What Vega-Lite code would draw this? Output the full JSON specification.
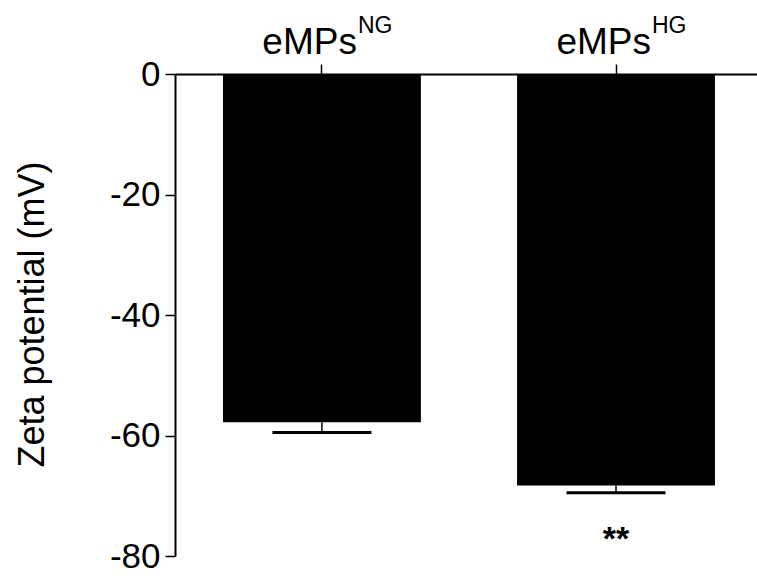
{
  "$schema": "https://vega.github.io/schema/vega-lite/v6.json",
  "width": 582,
  "height": 482,
  "autosize": {"type": "none"},
  "padding": {"left": 175, "top": 74, "right": 0, "bottom": 25},
  "config": {
    "view": {"stroke": null},
    "font": "Liberation Sans",
    "axis": {"labelFont": "Liberation Sans", "titleFont": "Liberation Sans", "domainColor": "black", "tickColor": "black", "labelColor": "black", "titleColor": "black", "grid": false}
  },
  "data": {
    "values": [
      {"group": "NG", "label": "eMPs", "sup": "NG", "mean": -57.8, "lower": -59.5, "star": "", "starY": null},
      {"group": "HG", "label": "eMPs", "sup": "HG", "mean": -68.3, "lower": -69.5, "star": "**", "starY": -77.4}
    ]
  },
  "encoding": {
    "x": {
      "field": "group", "type": "nominal", "sort": ["NG", "HG"],
      "scale": {"paddingInner": 0.327, "paddingOuter": 0.153, "align": 0.533},
      "axis": {"orient": "top", "labels": false, "title": null, "tickSize": 10, "tickWidth": 1.5, "domainWidth": 2}
    }
  },
  "layer": [
    {
      "mark": {"type": "bar", "color": "black"},
      "encoding": {
        "y": {
          "field": "mean", "type": "quantitative",
          "scale": {"domain": [-80, 0], "nice": false},
          "axis": {"title": "Zeta potential (mV)", "values": [0, -20, -40, -60, -80], "labelExpr": "toString(datum.value)", "tickSize": 10, "tickWidth": 1.5, "domainWidth": 2, "labelFontSize": 35, "titleFontSize": 36, "titleFontWeight": "normal", "labelPadding": 5, "labelFlush": false, "labelOverlap": false, "titleX": -132, "titleY": 240, "titleAngle": 270, "titleBaseline": "alphabetic", "titleAlign": "center"}
        }
      }
    },
    {
      "mark": {"type": "rule", "color": "black", "strokeWidth": 1.5},
      "encoding": {"y": {"field": "mean", "type": "quantitative", "title": "Zeta potential (mV)"}, "y2": {"field": "lower"}}
    },
    {
      "mark": {"type": "tick", "color": "black", "opacity": 1, "size": 99, "thickness": 3, "orient": "horizontal"},
      "encoding": {"y": {"field": "lower", "type": "quantitative", "title": "Zeta potential (mV)"}}
    },
    {
      "mark": {"type": "text", "align": "right", "baseline": "alphabetic", "fontSize": 37, "dx": 35, "dy": -20, "color": "black"},
      "encoding": {"y": {"datum": 0}, "text": {"field": "label"}}
    },
    {
      "mark": {"type": "text", "align": "left", "baseline": "alphabetic", "fontSize": 23, "dx": 36, "dy": -41, "color": "black"},
      "encoding": {"y": {"datum": 0}, "text": {"field": "sup"}}
    },
    {
      "mark": {"type": "text", "fontSize": 34, "fontWeight": "bold", "baseline": "middle", "color": "black"},
      "encoding": {"y": {"field": "starY", "type": "quantitative", "title": "Zeta potential (mV)"}, "text": {"field": "star"}}
    }
  ]
}
